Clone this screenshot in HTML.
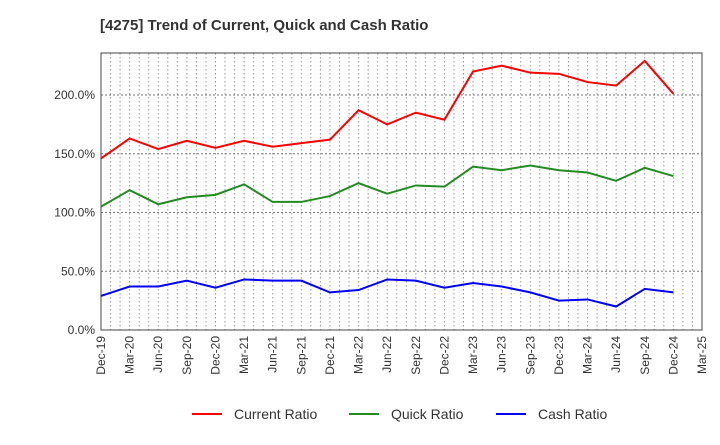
<!DOCTYPE html>
<html><head><meta charset="utf-8"><style>body{margin:0;background:#fff}svg text{font-family:"Liberation Sans",sans-serif}</style></head>
<body>
<svg id="c" width="720" height="440" xmlns="http://www.w3.org/2000/svg">
<text x="100" y="30" font-size="15" font-weight="bold" fill="#333">[4275]  Trend of Current, Quick and Cash Ratio</text>
<g id="grid"></g><g id="axes"></g><g id="series"></g><g id="legend"></g>
</svg>
<script>
const categories=["Dec-19","Mar-20","Jun-20","Sep-20","Dec-20","Mar-21","Jun-21","Sep-21","Dec-21","Mar-22","Jun-22","Sep-22","Dec-22","Mar-23","Jun-23","Sep-23","Dec-23","Mar-24","Jun-24","Sep-24","Dec-24","Mar-25"];
const currentRatio=[146,163,154,161,155,161,156,159,162,187,175,185,179,220,225,219,218,211,208,229,201];
const quickRatio=[105,119,107,113,115,124,109,109,114,125,116,123,122,139,136,140,136,134,127,138,131];
const cashRatio=[29,37,37,42,36,43,42,42,32,34,43,42,36,40,37,32,25,26,20,35,32];
const yTicks=[0,50,100,150,200];
const yTickLabels=["0.0%","50.0%","100.0%","150.0%","200.0%"];
const NS="http://www.w3.org/2000/svg";
const L=101,R=702,T=53,B=330;
const xs=i=>L+(R-L)*i/(categories.length-1);
const ys=v=>B-v*(B-95)/200;
function mk(tag,at,par){const e=document.createElementNS(NS,tag);for(const k in at)e.setAttribute(k,at[k]);document.getElementById(par).appendChild(e);return e;}
const grid="grid";
for(let m=1;m<(categories.length-1)*3;m++){const x=L+(R-L)*m/((categories.length-1)*3);
const g=mk("line",{x1:x,x2:x,y1:T,y2:B,stroke:"#999","stroke-dasharray":"1.5,2.5","stroke-width":1},grid);
}
yTicks.forEach((v,i)=>{const y=ys(v);
if(v>0){const g=mk("line",{x1:L,x2:R,y1:y,y2:y,stroke:"#777","stroke-dasharray":"2,2","stroke-width":1},grid);
}
const t=mk("text",{x:L-6,y:y+4,"text-anchor":"end","font-size":12,fill:"#333"},"axes");t.textContent=yTickLabels[i];
});
const fr=mk("rect",{x:L,y:T,width:R-L,height:B-T,fill:"none",stroke:"#444","stroke-width":1},"axes");

categories.forEach((c,i)=>{const x=xs(i);const t=mk("text",{x:0,y:0,"text-anchor":"end","font-size":12,fill:"#333",transform:`translate(${x+4},${B+6}) rotate(-90)`},"axes");t.textContent=c;
});
const ser=[[currentRatio,"#ff0000","Current Ratio","current-ratio-line"],[quickRatio,"#228b22","Quick Ratio","quick-ratio-line"],[cashRatio,"#0000ff","Cash Ratio","cash-ratio-line"]];
ser.forEach(([d,col,name,dn])=>{const p=mk("polyline",{points:d.map((v,i)=>xs(i)+","+ys(v)).join(" "),fill:"none",stroke:col,"stroke-width":2},"series");
});
const lx=[192,349,496];
ser.forEach(([d,col,name,dn],i)=>{const l=mk("line",{x1:lx[i],x2:lx[i]+30,y1:414,y2:414,stroke:col,"stroke-width":2},"legend");

const t=mk("text",{x:lx[i]+42,y:419,"font-size":14,fill:"#333"},"legend");t.textContent=name;
});
</script>
</body></html>
